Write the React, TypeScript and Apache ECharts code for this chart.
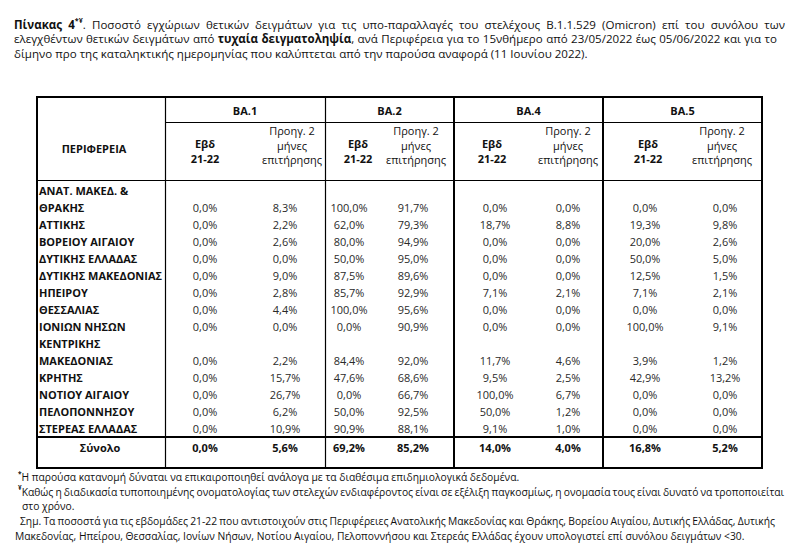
import React, { useEffect, useRef } from "react";
import * as echarts from "echarts";

// ---------- content ----------
const regions = [
  "ΑΝΑΤ. ΜΑΚΕΔ. &\nΘΡΑΚΗΣ",
  "ΑΤΤΙΚΗΣ",
  "ΒΟΡΕΙΟΥ ΑΙΓΑΙΟΥ",
  "ΔΥΤΙΚΗΣ ΕΛΛΑΔΑΣ",
  "ΔΥΤΙΚΗΣ ΜΑΚΕΔΟΝΙΑΣ",
  "ΗΠΕΙΡΟΥ",
  "ΘΕΣΣΑΛΙΑΣ",
  "ΙΟΝΙΩΝ ΝΗΣΩΝ",
  "ΚΕΝΤΡΙΚΗΣ\nΜΑΚΕΔΟΝΙΑΣ",
  "ΚΡΗΤΗΣ",
  "ΝΟΤΙΟΥ ΑΙΓΑΙΟΥ",
  "ΠΕΛΟΠΟΝΝΗΣΟΥ",
  "ΣΤΕΡΕΑΣ ΕΛΛΑΔΑΣ",
];
const variants = ["BA.1", "BA.2", "BA.4", "BA.5"];
const regionHeader = "ΠΕΡΙΦΕΡΕΙΑ";
const totalLabel = "Σύνολο";
const weekHeader = "Εβδ\n21-22";
const prevHeader = "Προηγ. 2\nμήνες\nεπιτήρησης";

const ba1Week = [0.0, 0.0, 0.0, 0.0, 0.0, 0.0, 0.0, 0.0, 0.0, 0.0, 0.0, 0.0, 0.0];
const ba1Prev = [8.3, 2.2, 2.6, 0.0, 9.0, 2.8, 4.4, 0.0, 2.2, 15.7, 26.7, 6.2, 10.9];
const ba2Week = [100.0, 62.0, 80.0, 50.0, 87.5, 85.7, 100.0, 0.0, 84.4, 47.6, 0.0, 50.0, 90.9];
const ba2Prev = [91.7, 79.3, 94.9, 95.0, 89.6, 92.9, 95.6, 90.9, 92.0, 68.6, 66.7, 92.5, 88.1];
const ba4Week = [0.0, 18.7, 0.0, 0.0, 0.0, 7.1, 0.0, 0.0, 11.7, 9.5, 100.0, 50.0, 9.1];
const ba4Prev = [0.0, 8.8, 0.0, 0.0, 0.0, 2.1, 0.0, 0.0, 4.6, 2.5, 6.7, 1.2, 1.0];
const ba5Week = [0.0, 19.3, 20.0, 50.0, 12.5, 7.1, 0.0, 100.0, 3.9, 42.9, 0.0, 0.0, 0.0];
const ba5Prev = [0.0, 9.8, 2.6, 5.0, 1.5, 2.1, 0.0, 9.1, 1.2, 13.2, 0.0, 0.0, 0.0];
const totals = [0.0, 5.6, 69.2, 85.2, 14.0, 4.0, 16.8, 5.2];

type Seg = [string, string];
const titleLine1: Seg[] = [
  ["b", "Πίνακας 4"],
  ["sup", "*¥"],
  ["r", ". Ποσοστό εγχώριων θετικών δειγμάτων για τις υπο-παραλλαγές του στελέχους B.1.1.529 (Omicron) επί του συνόλου των"],
];
const titleLine2: Seg[] = [
  ["r", "ελεγχθέντων θετικών δειγμάτων από "],
  ["b", "τυχαία δειγματοληψία"],
  ["r", ", ανά Περιφέρεια για το 15νθήμερο από 23/05/2022 έως 05/06/2022 και για το"],
];
const titleLine3: Seg[] = [
  ["r", "δίμηνο προ της καταληκτικής ημερομηνίας που καλύπτεται από την παρούσα αναφορά (11 Ιουνίου 2022)."],
];
const note1: Seg[] = [["sup", "*"], ["r", "Η παρούσα κατανομή δύναται να επικαιροποιηθεί ανάλογα με τα διαθέσιμα επιδημιολογικά δεδομένα."]];
const note2: Seg[] = [["sup", "¥"], ["r", "Καθώς η διαδικασία τυποποιημένης ονοματολογίας των στελεχών ενδιαφέροντος είναι σε εξέλιξη παγκοσμίως, η ονομασία τους είναι δυνατό να τροποποιείται"]];
const note3: Seg[] = [["r", "στο χρόνο."]];
const note4: Seg[] = [["r", "Σημ. Τα ποσοστά για τις εβδομάδες 21-22 που αντιστοιχούν στις Περιφέρειες Ανατολικής Μακεδονίας και Θράκης, Βορείου Αιγαίου, Δυτικής Ελλάδας, Δυτικής"]];
const note5: Seg[] = [["r", "Μακεδονίας, Ηπείρου, Θεσσαλίας, Ιονίων Νήσων, Νοτίου Αιγαίου, Πελοποννήσου και Στερεάς Ελλάδας έχουν υπολογιστεί επί συνόλου δειγμάτων <30."]];

// ---------- layout ----------
const FAMILY = "'Open Sans', 'Noto Sans', sans-serif";
const TBL_L = 37, TBL_R = 762, TBL_T = 97, SUB_Y = 122, HEAD_Y = 180.5, TOT_Y = 437, TBL_B = 468;
const GROUP_EDGES = [165, 325, 454, 603, 762];
const COL_X = [205, 285, 349, 413, 495, 568, 645, 725];
const HEAD_X = [205, 292, 358, 416, 492, 568, 648, 722];
const GRID_TOP = 181.5, LINE_H = 17, LINES_MAX = 17;
const NAME_X = 39;
const TOTAL_OFFSET = 0.62;

const fmt = (v: number) => v.toFixed(1).replace(".", ",") + "%";

export default function App() {
  const ref = useRef<HTMLDivElement>(null);
  useEffect(() => {
    const el = ref.current!;
    const chart = echarts.init(el, null, { renderer: "svg", width: 800, height: 556 });
    const ctx = document.createElement("canvas").getContext("2d")!;
    const fontStr = (size: number, weight = "normal") => `${weight} ${size}px ${FAMILY}`;
    const measure = (t: string, f: string) => {
      ctx.font = f;
      return ctx.measureText(t).width;
    };
    const fit = (t: string, target: number, weight = "normal") => (20 * target) / measure(t, fontStr(20, weight));

    const titleSize = fit(titleLine3[0][1], 574);
    const noteSize = fit(note5[0][1], 730);
    const tableSize = fit("ΔΥΤΙΚΗΣ ΜΑΚΕΔΟΝΙΑΣ", 123, "bold");

    const makeLine = (segs: Seg[], size: number, x: number, y: number, target?: number) => {
      const fonts: Record<string, string> = {
        r: fontStr(size),
        b: fontStr(size, "bold"),
        sup: fontStr(size * 0.62, "bold"),
      };
      const words: Seg[][] = [[]];
      for (const [st, tx] of segs) {
        tx.split(" ").forEach((p, i) => {
          if (i > 0) words.push([]);
          if (p) words[words.length - 1].push([st, p]);
        });
      }
      const ws = words.filter((w) => w.length);
      let gap = measure(" ", fonts.r);
      if (target && ws.length > 1) {
        const total = ws.reduce((a, w) => a + w.reduce((b, [st, tx]) => b + measure(tx, fonts[st]), 0), 0);
        gap = Math.max(gap * 0.8, (target - total) / (ws.length - 1));
      }
      const text = ws.map((w) => w.map(([st, tx]) => `{${st}|${tx}}`).join("")).join("{sp| }");
      return {
        type: "text",
        x,
        y,
        silent: true,
        style: {
          text,
          textAlign: "left",
          textVerticalAlign: "middle",
          fill: "#111",
          rich: {
            r: { fontSize: size, fontFamily: FAMILY, fontWeight: "normal", color: "#111", lineHeight: size * 1.3 },
            b: { fontSize: size, fontFamily: FAMILY, fontWeight: "bold", color: "#111", lineHeight: size * 1.3 },
            sup: { fontSize: size * 0.62, fontFamily: FAMILY, fontWeight: "bold", color: "#111", verticalAlign: "top", lineHeight: size * 1.3 },
            sp: { fontSize: size, fontFamily: FAMILY, width: gap, lineHeight: size * 1.3 },
          },
        },
      };
    };

    const line = (x1: number, y1: number, x2: number, y2: number, w: number) => ({
      type: "line",
      silent: true,
      shape: { x1, y1, x2, y2 },
      style: { stroke: "#000", lineWidth: w },
    });
    const htext = (text: string, x: number, y: number, bold: boolean, lh = 14.5) => ({
      type: "text",
      x,
      y,
      silent: true,
      style: {
        text,
        fill: "#111",
        fontSize: tableSize,
        fontFamily: FAMILY,
        fontWeight: bold ? "bold" : "normal",
        lineHeight: lh,
        textAlign: "center",
        textVerticalAlign: "middle",
      },
    });

    // row structure
    const rowLines = regions.map((n) => n.split("\n").length);
    const rowStart: number[] = [];
    let acc = 0;
    rowLines.forEach((n) => {
      rowStart.push(acc);
      acc += n;
    });
    const columns = [ba1Week, ba1Prev, ba2Week, ba2Prev, ba4Week, ba4Prev, ba5Week, ba5Prev];
    const cellData: number[][] = [];
    columns.forEach((col, c) =>
      col.forEach((v, r) => cellData.push([COL_X[c], rowStart[r] + rowLines[r] - 0.5, v, 0]))
    );
    totals.forEach((v, c) => cellData.push([COL_X[c], acc + TOTAL_OFFSET, v, 1]));
    const nameData = regions.map((_, r) => [NAME_X, rowStart[r], r]);

    const graphics: any[] = [
      makeLine(titleLine1, titleSize, 14, 24, 771),
      makeLine(titleLine2, titleSize, 14, 38.5, 763),
      makeLine(titleLine3, titleSize, 14, 53),
      makeLine(note1, noteSize, 18, 477),
      makeLine(note2, noteSize, 18, 491.5, 759),
      makeLine(note3, noteSize, 22, 506),
      makeLine(note4, noteSize, 20, 521, 755),
      makeLine(note5, noteSize, 15, 535.5),
      // borders
      line(TBL_L, TBL_T, TBL_R, TBL_T, 2),
      line(TBL_L, TBL_B, TBL_R, TBL_B, 2),
      line(TBL_L, TBL_T - 1, TBL_L, TBL_B + 1, 2),
      line(TBL_R, TBL_T - 1, TBL_R, TBL_B + 1, 2),
      line(GROUP_EDGES[0], SUB_Y + 0.5, TBL_R, SUB_Y + 0.5, 1),
      line(TBL_L, HEAD_Y, TBL_R, HEAD_Y, 1),
      line(TBL_L, TOT_Y, TBL_R, TOT_Y, 2),
      line(GROUP_EDGES[0] + 0.5, TBL_T, GROUP_EDGES[0] + 0.5, TBL_B, 1.2),
      line(GROUP_EDGES[1] + 0.5, TBL_T, GROUP_EDGES[1] + 0.5, TBL_B, 1.2),
      line(GROUP_EDGES[2], TBL_T, GROUP_EDGES[2], TBL_B, 2),
      line(GROUP_EDGES[3], TBL_T, GROUP_EDGES[3], TBL_B, 2),
      htext(regionHeader, 94, 148, true),
      htext(totalLabel, 100, 447.5, true),
    ];
    variants.forEach((v, g) => {
      graphics.push(htext(v, (GROUP_EDGES[g] + GROUP_EDGES[g + 1]) / 2, 110, true));
      graphics.push(htext(weekHeader, HEAD_X[2 * g], 151, true));
      graphics.push(htext(prevHeader, HEAD_X[2 * g + 1], 145, false));
    });

    chart.setOption({
      animation: false,
      backgroundColor: "#fff",
      grid: { left: 0, right: 0, top: GRID_TOP, height: LINE_H * LINES_MAX },
      xAxis: { type: "value", min: 0, max: 800, show: false },
      yAxis: { type: "value", min: 0, max: LINES_MAX, inverse: true, show: false },
      graphic: graphics,
      series: [
        {
          type: "custom",
          silent: true,
          data: cellData,
          renderItem: (_p: any, api: any) => {
            const pt = api.coord([api.value(0), api.value(1)]);
            const bold = api.value(3) === 1;
            return {
              type: "text",
              x: pt[0],
              y: pt[1],
              style: {
                text: fmt(api.value(2)),
                fill: bold ? "#111" : "#2a2a2a",
                fontSize: tableSize,
                fontFamily: FAMILY,
                fontWeight: bold ? "bold" : "normal",
                textAlign: "center",
                textVerticalAlign: "middle",
              },
            };
          },
        },
        {
          type: "custom",
          silent: true,
          data: nameData,
          renderItem: (_p: any, api: any) => {
            const pt = api.coord([api.value(0), api.value(1)]);
            return {
              type: "text",
              x: pt[0],
              y: pt[1],
              style: {
                text: regions[api.value(2)],
                fill: "#111",
                fontSize: tableSize,
                fontFamily: FAMILY,
                fontWeight: "bold",
                lineHeight: LINE_H,
                textAlign: "left",
                textVerticalAlign: "top",
              },
            };
          },
        },
      ],
    });
    return () => chart.dispose();
  }, []);
  return (
    <div
      ref={ref}
      style={{ position: "fixed", left: 0, top: 0, width: 800, height: 556, background: "#fff" }}
    />
  );
}
